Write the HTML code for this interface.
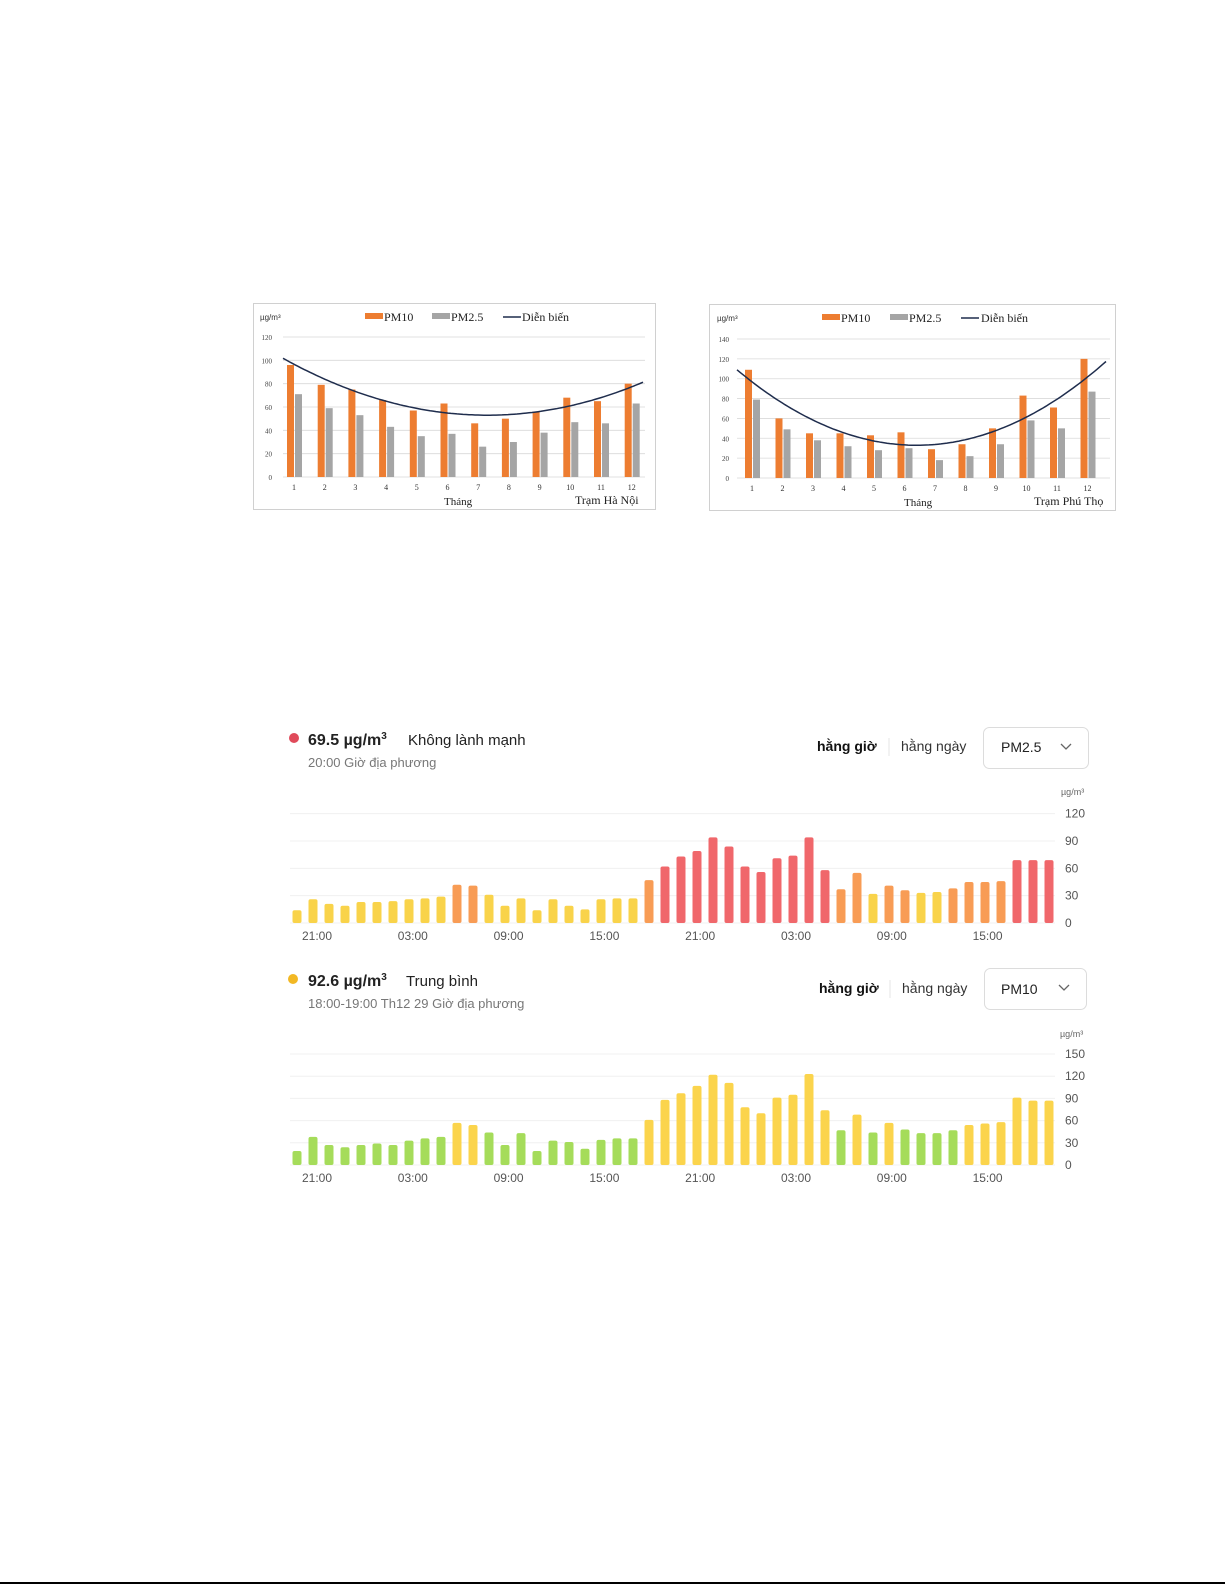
<!DOCTYPE html>
<html><head><meta charset="utf-8">
<style>
html,body{margin:0;padding:0;background:#fff;}
svg{display:block;}
.s{font-family:"Liberation Serif",serif;}
.a{font-family:"Liberation Sans","DejaVu Sans",sans-serif;}
</style></head>
<body>
<svg id="c" width="1225" height="1585" xmlns="http://www.w3.org/2000/svg">
<rect width="1225" height="1585" fill="#fff"/>
<line x1="0" y1="1583" x2="1225" y2="1583" stroke="#000" stroke-width="2"/>
<rect x="253.5" y="303.5" width="402" height="206" fill="#fff" stroke="#d0d0d0"/>
<rect x="709.5" y="304.5" width="406" height="206" fill="#fff" stroke="#d0d0d0"/>
<g class="a" font-size="8" fill="#333">
<text x="260" y="320">µg/m³</text>
<text x="717" y="321">µg/m³</text>
</g>
<g class="s" font-size="12" fill="#222">
<rect x="365" y="313" width="18" height="6" fill="#ED7D31"/><text x="384" y="321">PM10</text>
<rect x="432" y="313" width="18" height="6" fill="#A5A5A5"/><text x="451" y="321">PM2.5</text>
<line x1="503" y1="317" x2="521" y2="317" stroke="#1F2D4D" stroke-width="1.5"/><text x="522" y="321">Diễn biến</text>
<rect x="822" y="314" width="18" height="6" fill="#ED7D31"/><text x="841" y="322">PM10</text>
<rect x="890" y="314" width="18" height="6" fill="#A5A5A5"/><text x="909" y="322">PM2.5</text>
<line x1="961" y1="318" x2="979" y2="318" stroke="#1F2D4D" stroke-width="1.5"/><text x="981" y="322">Diễn biến</text>
<text x="444" y="505" font-size="11">Tháng</text>
<text x="575" y="504" font-size="12">Trạm Hà Nội</text>
<text x="904" y="506" font-size="11">Tháng</text>
<text x="1034" y="505" font-size="12">Trạm Phú Thọ</text>
</g>
<g id="g1"></g>
<g class="a">
<circle cx="294" cy="738" r="5" fill="#E04A5A"/>
<text x="308" y="745" font-size="16" font-weight="bold" fill="#222">69.5 µg/m<tspan dy="-6" font-size="10">3</tspan></text>
<text x="408" y="745" font-size="15" fill="#222">Không lành mạnh</text>
<text x="308" y="767" font-size="13" fill="#777">20:00 Giờ địa phương</text>
<text x="817" y="751" font-size="14" font-weight="bold" fill="#111">hằng giờ</text>
<line x1="889" y1="738" x2="889" y2="756" stroke="#e5e5e5"/>
<text x="901" y="751" font-size="14" fill="#333">hằng ngày</text>
<rect x="983.5" y="727.5" width="105" height="41" rx="6" fill="#fff" stroke="#dcdcdc"/>
<text x="1001" y="752" font-size="14" fill="#222">PM2.5</text>
<polyline points="1061,744 1066,749 1071,744" fill="none" stroke="#666" stroke-width="1.3"/>
<text x="1061" y="795" font-size="9" fill="#666">µg/m³</text>

<circle cx="293" cy="979" r="5" fill="#F2B824"/>
<text x="308" y="986" font-size="16" font-weight="bold" fill="#222">92.6 µg/m<tspan dy="-6" font-size="10">3</tspan></text>
<text x="406" y="986" font-size="15" fill="#222">Trung bình</text>
<text x="308" y="1008" font-size="13" fill="#777">18:00-19:00 Th12 29 Giờ địa phương</text>
<text x="819" y="993" font-size="14" font-weight="bold" fill="#111">hằng giờ</text>
<line x1="890" y1="980" x2="890" y2="998" stroke="#e5e5e5"/>
<text x="902" y="993" font-size="14" fill="#333">hằng ngày</text>
<rect x="984.5" y="968.5" width="102" height="41" rx="6" fill="#fff" stroke="#dcdcdc"/>
<text x="1001" y="994" font-size="14" fill="#222">PM10</text>
<polyline points="1059,985 1064,990 1069,985" fill="none" stroke="#666" stroke-width="1.3"/>
<text x="1060" y="1037" font-size="9" fill="#666">µg/m³</text>
</g>
</svg>
<script>
(function(){
var NS="http://www.w3.org/2000/svg",g=document.getElementById("g1");
function el(t,a,txt){var e=document.createElementNS(NS,t);for(var k in a)e.setAttribute(k,a[k]);if(txt!=null)e.textContent=String(txt);g.appendChild(e);return e;}
function drawTop(o){
 var s=o.ppu;
 for(var v=0;v<=o.max;v+=20){var y=o.y0-v*s;
  el("line",{x1:o.gx1,x2:o.gx2,y1:y,y2:y,stroke:"#d9d9d9","stroke-width":0.8});
  el("text",{x:o.lx,y:y+3,"font-size":7,"text-anchor":"end","font-family":"Liberation Serif,serif",fill:"#444"},v);}
 for(var i=0;i<12;i++){var cx=o.x1+o.dx*i;
  el("rect",{x:cx-7,y:o.y0-o.a[i]*s,width:7,height:o.a[i]*s,fill:"#ED7D31"});
  el("rect",{x:cx+1,y:o.y0-o.b[i]*s,width:7,height:o.b[i]*s,fill:"#A5A5A5"});
  el("text",{x:cx,y:o.y0+13,"font-size":8,"text-anchor":"middle","font-family":"Liberation Serif,serif",fill:"#333"},i+1);}
 var p=[];for(var x=o.gx1;x<=o.cx2;x+=3){var m=1+(x-o.x1)/o.dx;var v2=o.k+o.q*(m-o.h)*(m-o.h);p.push(x+","+(o.y0-v2*s).toFixed(1));}
 el("polyline",{points:p.join(" "),fill:"none",stroke:"#1F2D4D","stroke-width":1.5});
}
drawTop({y0:477,ppu:140/120,max:120,gx1:283,gx2:645,cx2:645,lx:272,x1:294,dx:30.7,
 a:[96,79,75,66,57,63,46,50,56,68,65,80],b:[71,59,53,43,35,37,26,30,38,47,46,63],h:7.3,k:53,q:1.1});
drawTop({y0:478,ppu:139/140,max:140,gx1:737,gx2:1110,cx2:1106,lx:729,x1:752,dx:30.5,
 a:[109,60,45,45,43,46,29,34,50,83,71,120],b:[79,49,38,32,28,30,18,22,34,58,50,87],h:6.4,k:33,q:2.19});
function drawBot(o){
 o.ticks.forEach(function(v){var y=o.y0-v*o.ppu;
  el("line",{x1:290,x2:1055,y1:y,y2:y,stroke:"#f0f0f0","stroke-width":1});
  el("text",{x:1065,y:y+4,"font-size":12,"font-family":"Liberation Sans,sans-serif",fill:"#555"},v);});
 o.v.forEach(function(v,i){var cx=297+i*16;
  el("rect",{x:cx-4.5,y:o.y0-v*o.ppu,width:9,height:v*o.ppu,rx:2,fill:o.col(v)});});
 ["21:00","03:00","09:00","15:00","21:00","03:00","09:00","15:00"].forEach(function(t,i){
  el("text",{x:317+i*95.8,y:o.y0+17,"font-size":12,"text-anchor":"middle","font-family":"Liberation Sans,sans-serif",fill:"#555"},t);});
}
drawBot({y0:923,ppu:82/90,ticks:[0,30,60,90,120],
 v:[14,26,21,19,23,23,24,26,27,29,42,41,31,19,27,14,26,19,15,26,27,27,47,62,73,79,94,84,62,56,71,74,94,58,37,55,32,41,36,33,34,38,45,45,46,69,69,69],
 col:function(v){return v<35?"#F9D34A":(v<=55?"#F89C55":"#F0676B");}});
drawBot({y0:1165,ppu:111/150,ticks:[0,30,60,90,120,150],
 v:[19,38,27,24,27,29,27,33,36,38,57,54,44,27,43,19,33,31,22,34,36,36,61,88,97,107,122,111,78,70,91,95,123,74,47,68,44,57,48,43,43,47,54,56,58,91,87,87],
 col:function(v){return v<=50?"#A5DC5A":"#FBD44C";}});
})();
</script>
</body></html>
